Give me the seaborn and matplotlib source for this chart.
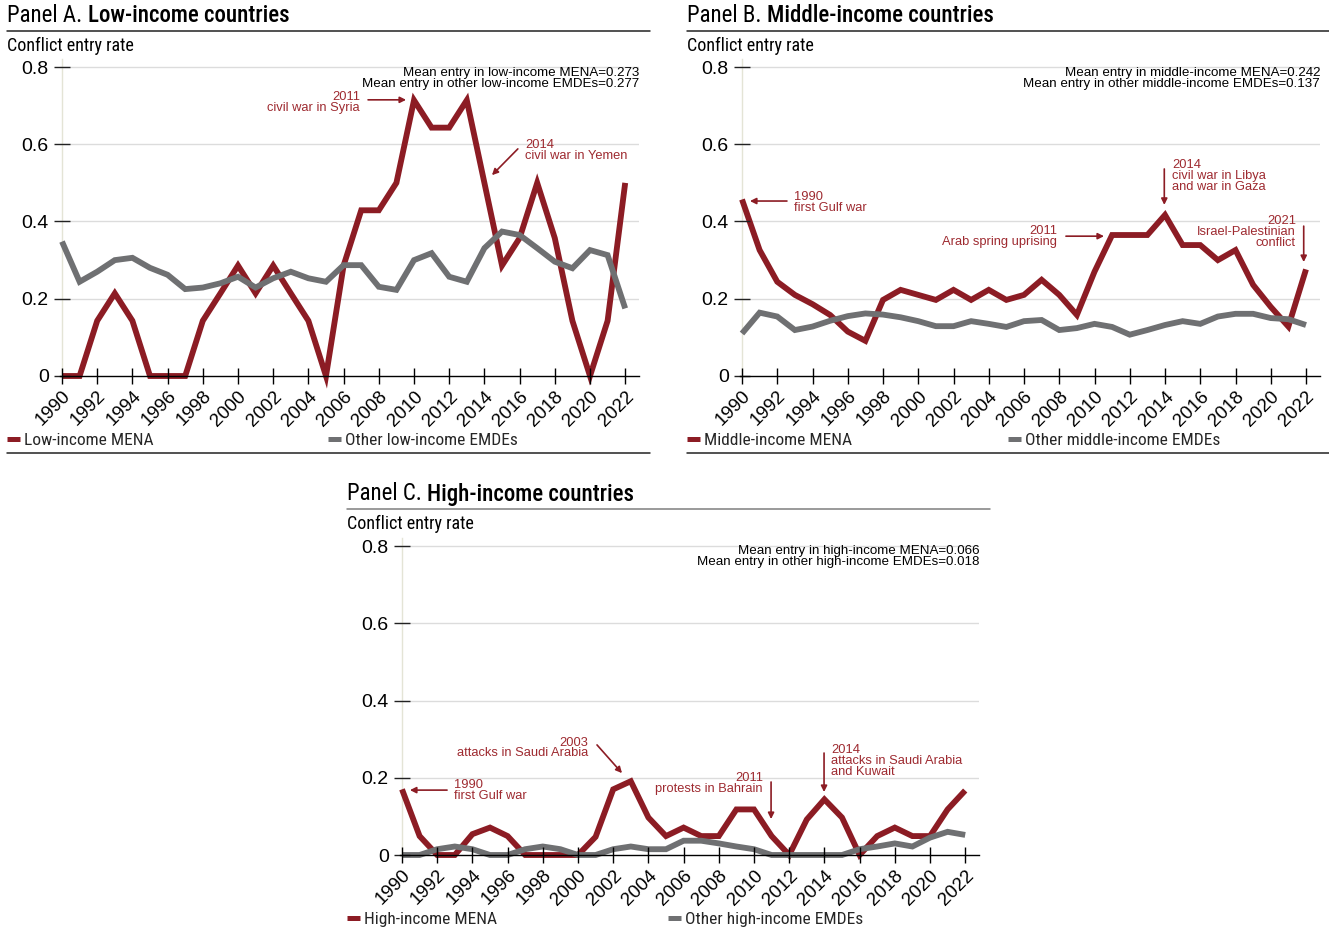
import matplotlib
matplotlib.use("Agg")
import matplotlib.pyplot as plt
import seaborn as sns
import pandas as pd
from matplotlib import font_manager as fm
from matplotlib.lines import Line2D

# ---------------- data ----------------
years = list(range(1990, 2023))

low_mena = [0, 0, 0.143, 0.214, 0.143, 0, 0, 0, 0.143, 0.214, 0.286, 0.214, 0.286, 0.214,
            0.143, 0, 0.286, 0.429, 0.429, 0.5, 0.714, 0.643, 0.643, 0.714, 0.5, 0.286,
            0.357, 0.5, 0.357, 0.143, 0, 0.143, 0.5]
low_other = [0.348, 0.244, 0.27, 0.30, 0.306, 0.28, 0.262, 0.225, 0.229, 0.24, 0.257, 0.229,
             0.253, 0.27, 0.253, 0.244, 0.287, 0.287, 0.231, 0.223, 0.30, 0.318, 0.257, 0.244,
             0.331, 0.374, 0.365, 0.331, 0.296, 0.279, 0.326, 0.313, 0.175]
mid_mena = [0.457, 0.326, 0.244, 0.21, 0.186, 0.158, 0.115, 0.091, 0.197, 0.223, 0.21, 0.197,
            0.223, 0.197, 0.223, 0.197, 0.21, 0.249, 0.21, 0.158, 0.27, 0.365, 0.365, 0.365,
            0.417, 0.339, 0.339, 0.30, 0.326, 0.236, 0.179, 0.128, 0.276]
mid_other = [0.11, 0.164, 0.154, 0.119, 0.128, 0.143, 0.155, 0.162, 0.159, 0.152, 0.142, 0.129,
             0.129, 0.142, 0.135, 0.127, 0.142, 0.145, 0.119, 0.124, 0.135, 0.127, 0.107, 0.119,
             0.132, 0.142, 0.135, 0.154, 0.161, 0.161, 0.15, 0.147, 0.132]
high_mena = [0.17, 0.049, 0, 0, 0.054, 0.071, 0.049, 0, 0, 0, 0, 0.047, 0.17, 0.191, 0.097,
             0.049, 0.071, 0.049, 0.049, 0.118, 0.118, 0.049, 0, 0.092, 0.144, 0.097, 0,
             0.049, 0.071, 0.049, 0.049, 0.118, 0.167]
high_other = [0, 0, 0.015, 0.022, 0.015, 0, 0, 0.015, 0.022, 0.015, 0, 0, 0.015, 0.022, 0.015,
              0.015, 0.037, 0.037, 0.03, 0.022, 0.015, 0, 0, 0, 0, 0, 0.015, 0.022, 0.03,
              0.022, 0.045, 0.06, 0.052]

panel_titles = [("Panel A. ", "Low-income countries"),
                ("Panel B. ", "Middle-income countries"),
                ("Panel C. ", "High-income countries")]
series_labels = [("Low-income MENA", "Other low-income EMDEs"),
                 ("Middle-income MENA", "Other middle-income EMDEs"),
                 ("High-income MENA", "Other high-income EMDEs")]
mean_texts = ["Mean entry in low-income MENA=0.273\nMean entry in other low-income EMDEs=0.277",
              "Mean entry in middle-income MENA=0.242\nMean entry in other middle-income EMDEs=0.137",
              "Mean entry in high-income MENA=0.066\nMean entry in other high-income EMDEs=0.018"]
y_label = "Conflict entry rate"
ytick_vals = [0, 0.2, 0.4, 0.6, 0.8]
ytick_labels = ["0", "0.2", "0.4", "0.6", "0.8"]
xtick_vals = list(range(1990, 2023, 2))

# annotations: (text, text_x, text_y, ha, arrow_tail, arrow_head)
annotations = [
    [("2011\ncivil war in Syria", 2006.93, 0.709, "right", (2007.39, 0.715), (2009.55, 0.715)),
     ("2014\ncivil war in Yemen", 2016.31, 0.585, "left", (2015.9, 0.588), (2014.43, 0.52))],
    [("1990\nfirst Gulf war", 1992.95, 0.45, "left", (1992.55, 0.453), (1990.45, 0.453)),
     ("2011\nArab spring uprising", 2007.87, 0.36, "right", (2008.38, 0.362), (2010.54, 0.362)),
     ("2014\ncivil war in Libya\nand war in Gaza", 2014.4, 0.518, "left", (2013.96, 0.536), (2013.96, 0.443)),
     ("2021\nIsrael-Palestinian\nconflict", 2021.43, 0.373, "right", (2021.87, 0.388), (2021.87, 0.295))],
    [("2003\nattacks in Saudi Arabia", 2000.57, 0.277, "right", (2001.08, 0.285), (2002.5, 0.212)),
     ("1990\nfirst Gulf war", 1992.95, 0.166, "left", (1992.56, 0.168), (1990.45, 0.168)),
     ("2011\nprotests in Bahrain", 2010.51, 0.184, "right", (2010.97, 0.189), (2010.97, 0.093)),
     ("2014\nattacks in Saudi Arabia\nand Kuwait", 2014.38, 0.243, "left", (2013.98, 0.264), (2013.98, 0.163))],
]

mena_data = [low_mena, mid_mena, high_mena]
other_data = [low_other, mid_other, high_other]

# ---------------- style ----------------
RED = "#8C1C24"
RED_TXT = "#9E2A30"
GRAY = "#6F7072"
W, H = 1329, 930

sns.set_theme(style="white")
avail = {f.name for f in fm.fontManager.ttflist}
COND = next((f for f in ["Liberation Sans Narrow", "Roboto Condensed", "Open Sans Condensed"]
             if f in avail), "DejaVu Sans")
plt.rcParams["font.family"] = ["Liberation Sans", "DejaVu Sans"]

fig = plt.figure(figsize=(W / 100, H / 100), dpi=100)
fig.patch.set_facecolor("white")

# panel geometry in pixels: x of 1990, px per year, y of 0, y of 0.8, left/right of header block
geo = [dict(x0=62, ppy=17.6, y0=376, y8=67, hl=7, hr=650, ty=16, line_color="#222222"),
       dict(x0=742, ppy=17.625, y0=376, y8=67, hl=687, hr=1329, ty=16, line_color="#222222"),
       dict(x0=402, ppy=17.6, y0=855, y8=546, hl=347, hr=990, ty=494, line_color="#7f7f7f")]

XMIN, XMAX = 1989.9, 2022.8
YMIN, YMAX = 0.0, 0.82

renderer = fig.canvas.get_renderer()

for i, g in enumerate(geo):
    ppv = (g["y0"] - g["y8"]) / 0.8
    left = g["x0"] + (XMIN - 1990) * g["ppy"]
    right = g["x0"] + (XMAX - 1990) * g["ppy"]
    top = g["y0"] - YMAX * ppv
    bottom = g["y0"] - YMIN * ppv
    ax = fig.add_axes([left / W, 1 - bottom / H, (right - left) / W, (bottom - top) / H])
    ax.set_facecolor("white")

    df = pd.DataFrame({
        "year": years * 2,
        "value": mena_data[i] + other_data[i],
        "series": [series_labels[i][0]] * len(years) + [series_labels[i][1]] * len(years),
    })
    sns.lineplot(data=df, x="year", y="value", hue="series",
                 hue_order=list(series_labels[i]), palette=[RED, GRAY],
                 linewidth=4.2, errorbar=None, legend=False, ax=ax,
                 clip_on=False, solid_joinstyle="miter", solid_capstyle="butt", zorder=2)

    for yv in ytick_vals[1:]:
        ax.axhline(yv, color="#DCDCDC", lw=1.0, zorder=0.5)

    ax.set_xlim(XMIN, XMAX)
    ax.set_ylim(YMIN, YMAX)
    ax.set_axisbelow(False)
    for s in ["top", "right"]:
        ax.spines[s].set_visible(False)
    ax.spines["left"].set_position(("data", 1990))
    ax.spines["left"].set_color("#E4E4D6")
    ax.spines["left"].set_linewidth(1.0)
    ax.spines["left"].set_zorder(0.6)
    ax.spines["bottom"].set_color("black")
    ax.spines["bottom"].set_linewidth(1.0)
    ax.spines["bottom"].set_zorder(3)

    ax.set_yticks(ytick_vals)
    ax.set_yticklabels(ytick_labels)
    ax.set_xticks(xtick_vals)
    ax.set_xticklabels([str(y) for y in xtick_vals], rotation=45, ha="right",
                       rotation_mode="anchor")
    ax.tick_params(axis="y", direction="inout", length=11, width=1.0, color="#222222",
                   labelsize=14, pad=4, left=True, labelcolor="black")
    ax.tick_params(axis="x", direction="inout", length=11, width=1.0, color="black",
                   labelsize=13.5, pad=3, bottom=True, labelcolor="black")
    ax.set_xlabel("")
    ax.set_ylabel("")

    # mean text
    ax.text(XMAX, 0.771 if i < 2 else 0.772, mean_texts[i], ha="right", va="center",
            fontsize=9.6, color="black", linespacing=0.86, multialignment="right")

    # annotations
    for txt, tx, ty, ha, tail, head in annotations[i]:
        ax.text(tx, ty, txt, ha=ha, va="center", multialignment=ha, fontsize=9.3,
                color=RED_TXT, linespacing=0.88)
        ax.annotate("", xy=head, xytext=tail,
                    arrowprops=dict(arrowstyle="-|>", color=RED, lw=1.2,
                                    mutation_scale=9, shrinkA=0, shrinkB=0))

    # header: title, rule, y label
    ty = 1 - g["ty"] / H
    t1 = fig.text(g["hl"] / W, ty, panel_titles[i][0], fontfamily=COND, fontsize=16.5,
                  va="center", ha="left", color="black")
    bb = t1.get_window_extent(renderer)
    fig.text(bb.x1 / W, ty, panel_titles[i][1], fontfamily=COND, fontsize=16.5,
             fontweight="medium", va="center", ha="left", color="black")
    ly = 1 - (g["ty"] + 15) / H
    fig.add_artist(Line2D([g["hl"] / W, g["hr"] / W], [ly, ly], color=g["line_color"], lw=1.1))
    fig.text(g["hl"] / W, 1 - (g["ty"] + 29.5) / H, y_label, fontfamily=COND, fontsize=13,
             va="center", ha="left", color="black")

    # legend entries
    leg_y = 1 - (g["y0"] + 64.5) / H
    leg_x = [g["hl"], g["hl"] + 321]
    for k, col in enumerate([RED, GRAY]):
        h = Line2D([], [], color=col, lw=3.6, solid_capstyle="butt")
        fig.legend(handles=[h], labels=[series_labels[i][k]], loc="center left",
                   bbox_to_anchor=(leg_x[k] / W, leg_y), frameon=False, borderpad=0,
                   borderaxespad=0, handlelength=0.75, handletextpad=0.25,
                   prop=dict(family=COND, size=12.5))
    if i < 2:
        by = 1 - (g["y0"] + 77) / H
        fig.add_artist(Line2D([g["hl"] / W, g["hr"] / W], [by, by], color="#222222", lw=1.1))

fig.savefig("out.png", dpi=100, facecolor="white")
